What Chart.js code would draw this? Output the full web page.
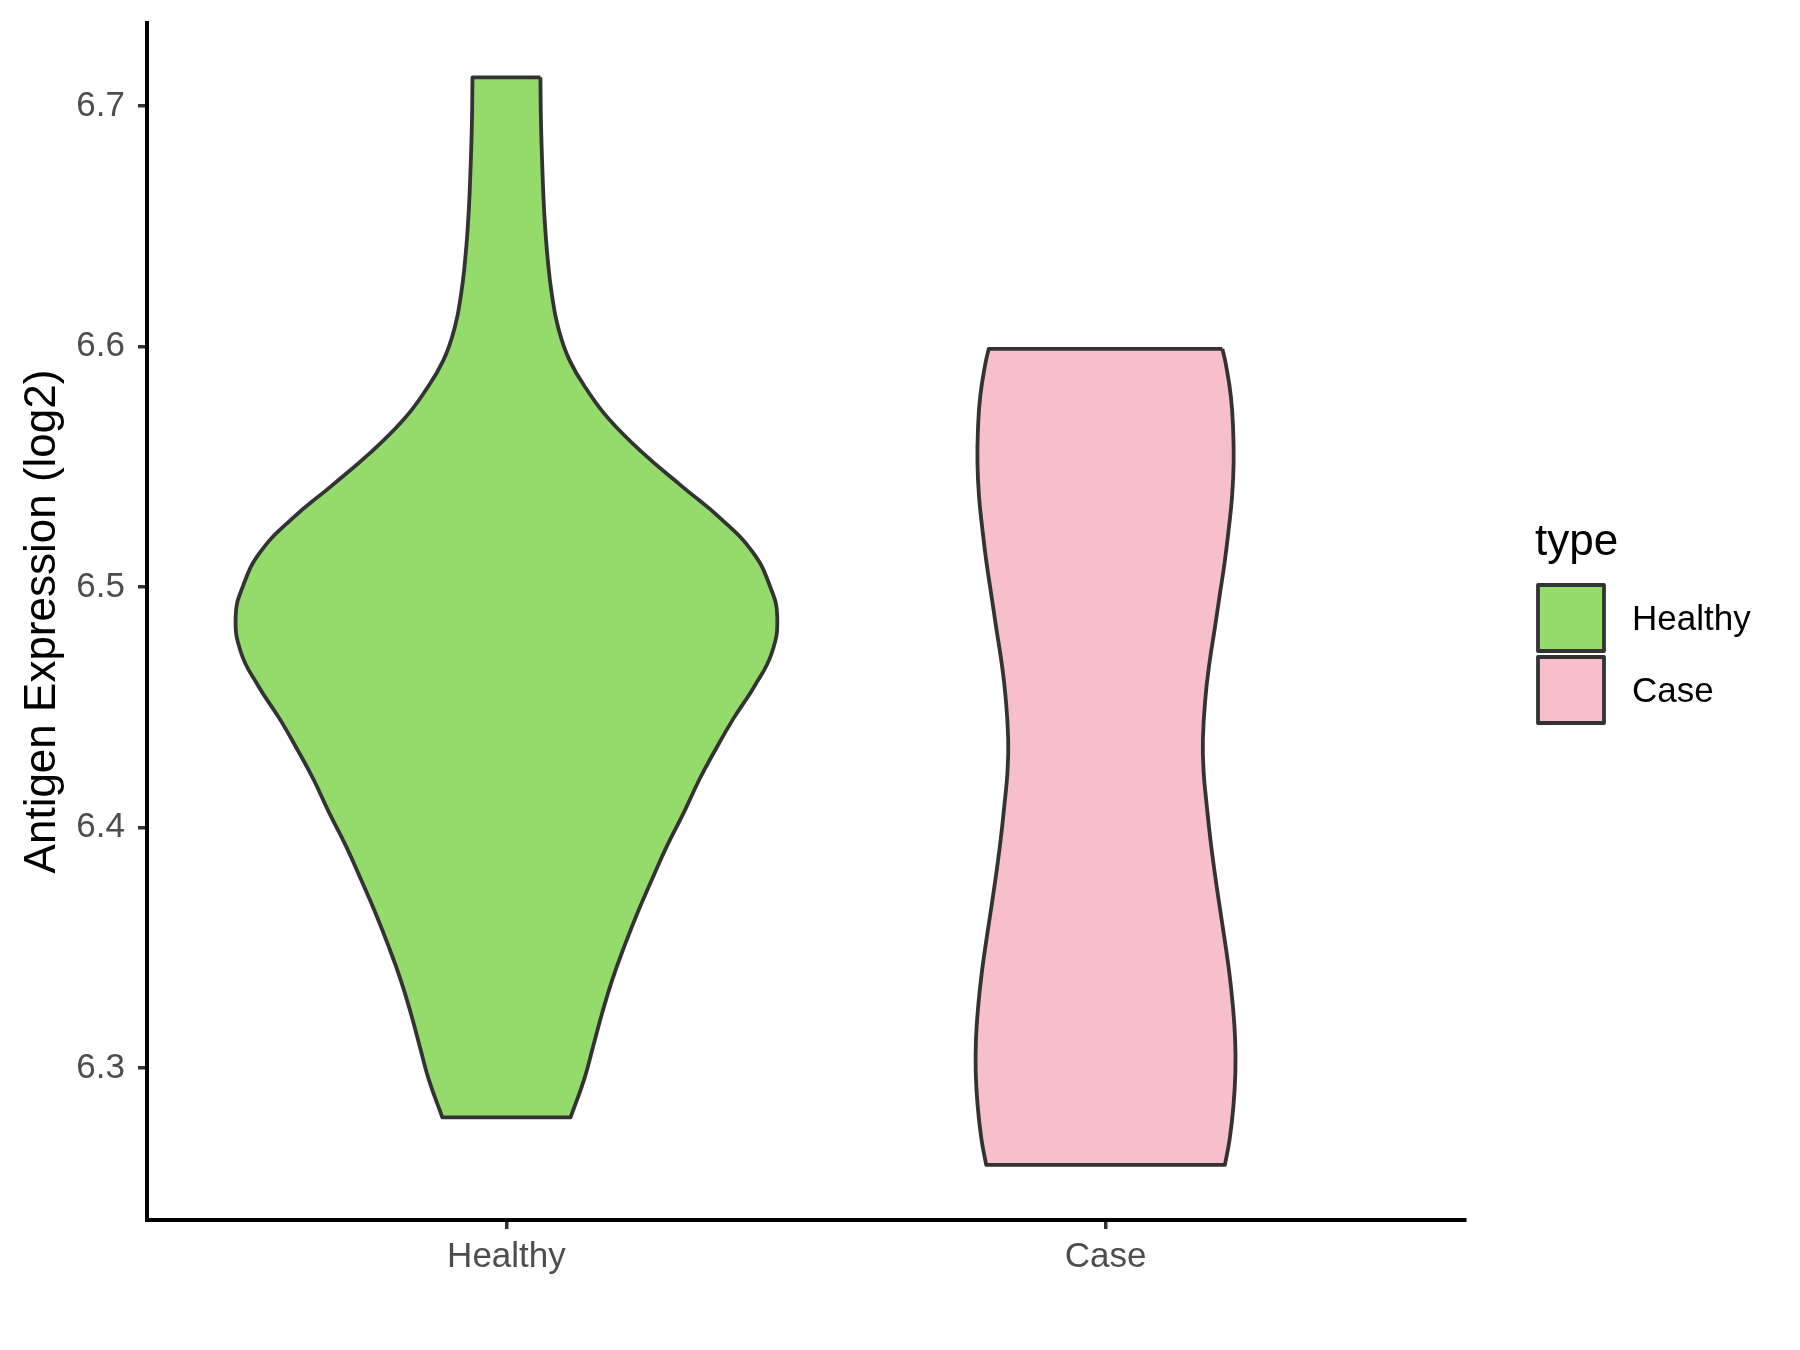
<!DOCTYPE html>
<html>
<head>
<meta charset="utf-8">
<script src="https://cdn.jsdelivr.net/npm/chart.js@4.4.1/dist/chart.umd.min.js"></script>
<style>
  html, body { margin: 0; padding: 0; background: #fff; }
</style>
</head>
<body>
<canvas id="chart" width="1800" height="1350"></canvas>
<script>
const CATEGORIES = ['Healthy', 'Case']
const FILL_COLORS = ['#94DB6B', '#F7BFCA']
const Y_TICKS = [6.3, 6.4, 6.5, 6.6, 6.7]

// violin outlines, top to bottom: expression value and half width (category units)
const HEALTHY_Y = [6.712, 6.6914, 6.6637, 6.6499, 6.6360, 6.6222, 6.6083, 6.5945, 6.5807, 6.5696,
    6.5557, 6.5419, 6.5280, 6.5142, 6.5003, 6.4879, 6.4727, 6.4588, 6.4450, 6.4311,
    6.4200, 6.4062, 6.3924, 6.3785, 6.3647, 6.3508, 6.3370, 6.3231, 6.3093, 6.2955, 6.2795]
const HEALTHY_HALF = [0.0567, 0.0578, 0.0615, 0.0645, 0.069, 0.0755, 0.086, 0.105, 0.138, 0.172,
    0.228, 0.293, 0.360, 0.412, 0.440, 0.452, 0.443, 0.414, 0.378, 0.346,
    0.322, 0.296, 0.268, 0.243, 0.219, 0.197, 0.177, 0.160, 0.145, 0.130, 0.107]

const CASE_Y = [6.5991, 6.5931, 6.5793, 6.5654, 6.5516, 6.5377, 6.5239, 6.5101, 6.4962, 6.4823,
    6.4685, 6.4547, 6.4367, 6.4228, 6.4090, 6.3951, 6.3813, 6.3674, 6.3536, 6.3398,
    6.3259, 6.3120, 6.2982, 6.2843, 6.2705, 6.2597]
const CASE_HALF = [0.195, 0.2005, 0.2092, 0.2130, 0.2138, 0.2112, 0.2055, 0.1987, 0.1903, 0.1820,
    0.1735, 0.1670, 0.1625, 0.1638, 0.1690, 0.175, 0.1822, 0.1903, 0.1987, 0.2065,
    0.2125, 0.2163, 0.2167, 0.2135, 0.2072, 0.1992]

Chart.defaults.font.family = '"Liberation Sans", Arial, sans-serif'

// closed outline: right side down, left side up, back to the start.
// corner points are doubled so the spline keeps them sharp
function outline(center, ys, halves) {
    const pts = []
    const n = ys.length
    for (let i = 0; i < n; i++) {
        const p = { x: center + halves[i], y: ys[i] }
        pts.push(p)
        if (i == 0 || i == n - 1) pts.push(p)
    }
    for (let i = n - 1; i >= 0; i--) {
        const p = { x: center - halves[i], y: ys[i] }
        pts.push(p)
        if (i == 0 || i == n - 1) pts.push(p)
    }
    pts.push({ x: center + halves[0], y: ys[0] })
    return pts
}

function violinDataset(i, ys, halves) {
    return {
        label: CATEGORIES[i],
        data: outline(i + 1, ys, halves),
        backgroundColor: FILL_COLORS[i],
        borderColor: '#333333',
        borderWidth: 3.8,
        borderJoinStyle: 'round',
        fill: 'shape',
        tension: 0.45,
        pointRadius: 0,
        pointHoverRadius: 0
    }
}

// ggplot-style legend on the right
const typeLegend = {
    id: 'typeLegend',
    afterDraw(chart) {
        const ctx = chart.ctx
        ctx.save()
        ctx.textBaseline = 'alphabetic'
        ctx.fillStyle = '#000'
        ctx.font = '44px "Liberation Sans", Arial, sans-serif'
        ctx.fillText('type', 1535, 555)
        chart.data.datasets.forEach((ds, i) => {
            const top = 585 + i * 72
            ctx.fillStyle = ds.backgroundColor
            ctx.fillRect(1538, top, 66, 66)
            ctx.lineWidth = 3.8
            ctx.lineJoin = 'round'
            ctx.strokeStyle = '#333333'
            ctx.strokeRect(1538, top, 66, 66)
            ctx.fillStyle = '#000'
            ctx.font = '35px "Liberation Sans", Arial, sans-serif'
            ctx.fillText(ds.label, 1632, top + 45)
        })
        ctx.restore()
    }
}

new Chart(document.getElementById('chart'), {
    type: 'line',
    data: {
        datasets: [
            violinDataset(0, HEALTHY_Y, HEALTHY_HALF),
            violinDataset(1, CASE_Y, CASE_HALF)
        ]
    },
    options: {
        responsive: false,
        animation: false,
        layout: { padding: { top: 23, right: 335, bottom: 0, left: 0 } },
        plugins: {
            legend: { display: false },
            tooltip: { enabled: false }
        },
        scales: {
            x: {
                type: 'linear',
                min: 0.4,
                max: 2.6,
                afterBuildTicks: (s) => { s.ticks = CATEGORIES.map((c, i) => ({ value: i + 1 })) },
                afterFit: (s) => {
                    s.height = 130
                    s.paddingLeft = 0
                    s.paddingRight = 0
                },
                ticks: {
                    callback: (v) => CATEGORIES[v - 1],
                    color: '#4D4D4D',
                    font: { size: 35 },
                    padding: 7,
                    maxRotation: 0,
                    autoSkip: false
                },
                grid: { drawOnChartArea: false, tickLength: 9, color: '#333333', lineWidth: 3.5 },
                border: { color: '#000', width: 4 }
            },
            y: {
                type: 'linear',
                min: 6.2368,
                max: 6.7346,
                afterBuildTicks: (s) => { s.ticks = Y_TICKS.map((v) => ({ value: v })) },
                afterFit: (s) => {
                    s.width = 147
                    s.paddingTop = 0
                    s.paddingBottom = 0
                },
                ticks: {
                    callback: (v) => v.toFixed(1),
                    color: '#4D4D4D',
                    font: { size: 35 },
                    padding: 13
                },
                grid: { drawOnChartArea: false, tickLength: 9, color: '#333333', lineWidth: 3.5 },
                border: { color: '#000', width: 4 },
                title: {
                    display: true,
                    text: 'Antigen Expression (log2)',
                    color: '#000',
                    font: { size: 44 },
                    padding: { top: 16, bottom: 0 }
                }
            }
        }
    },
    plugins: [typeLegend]
})
</script>
</body>
</html>
